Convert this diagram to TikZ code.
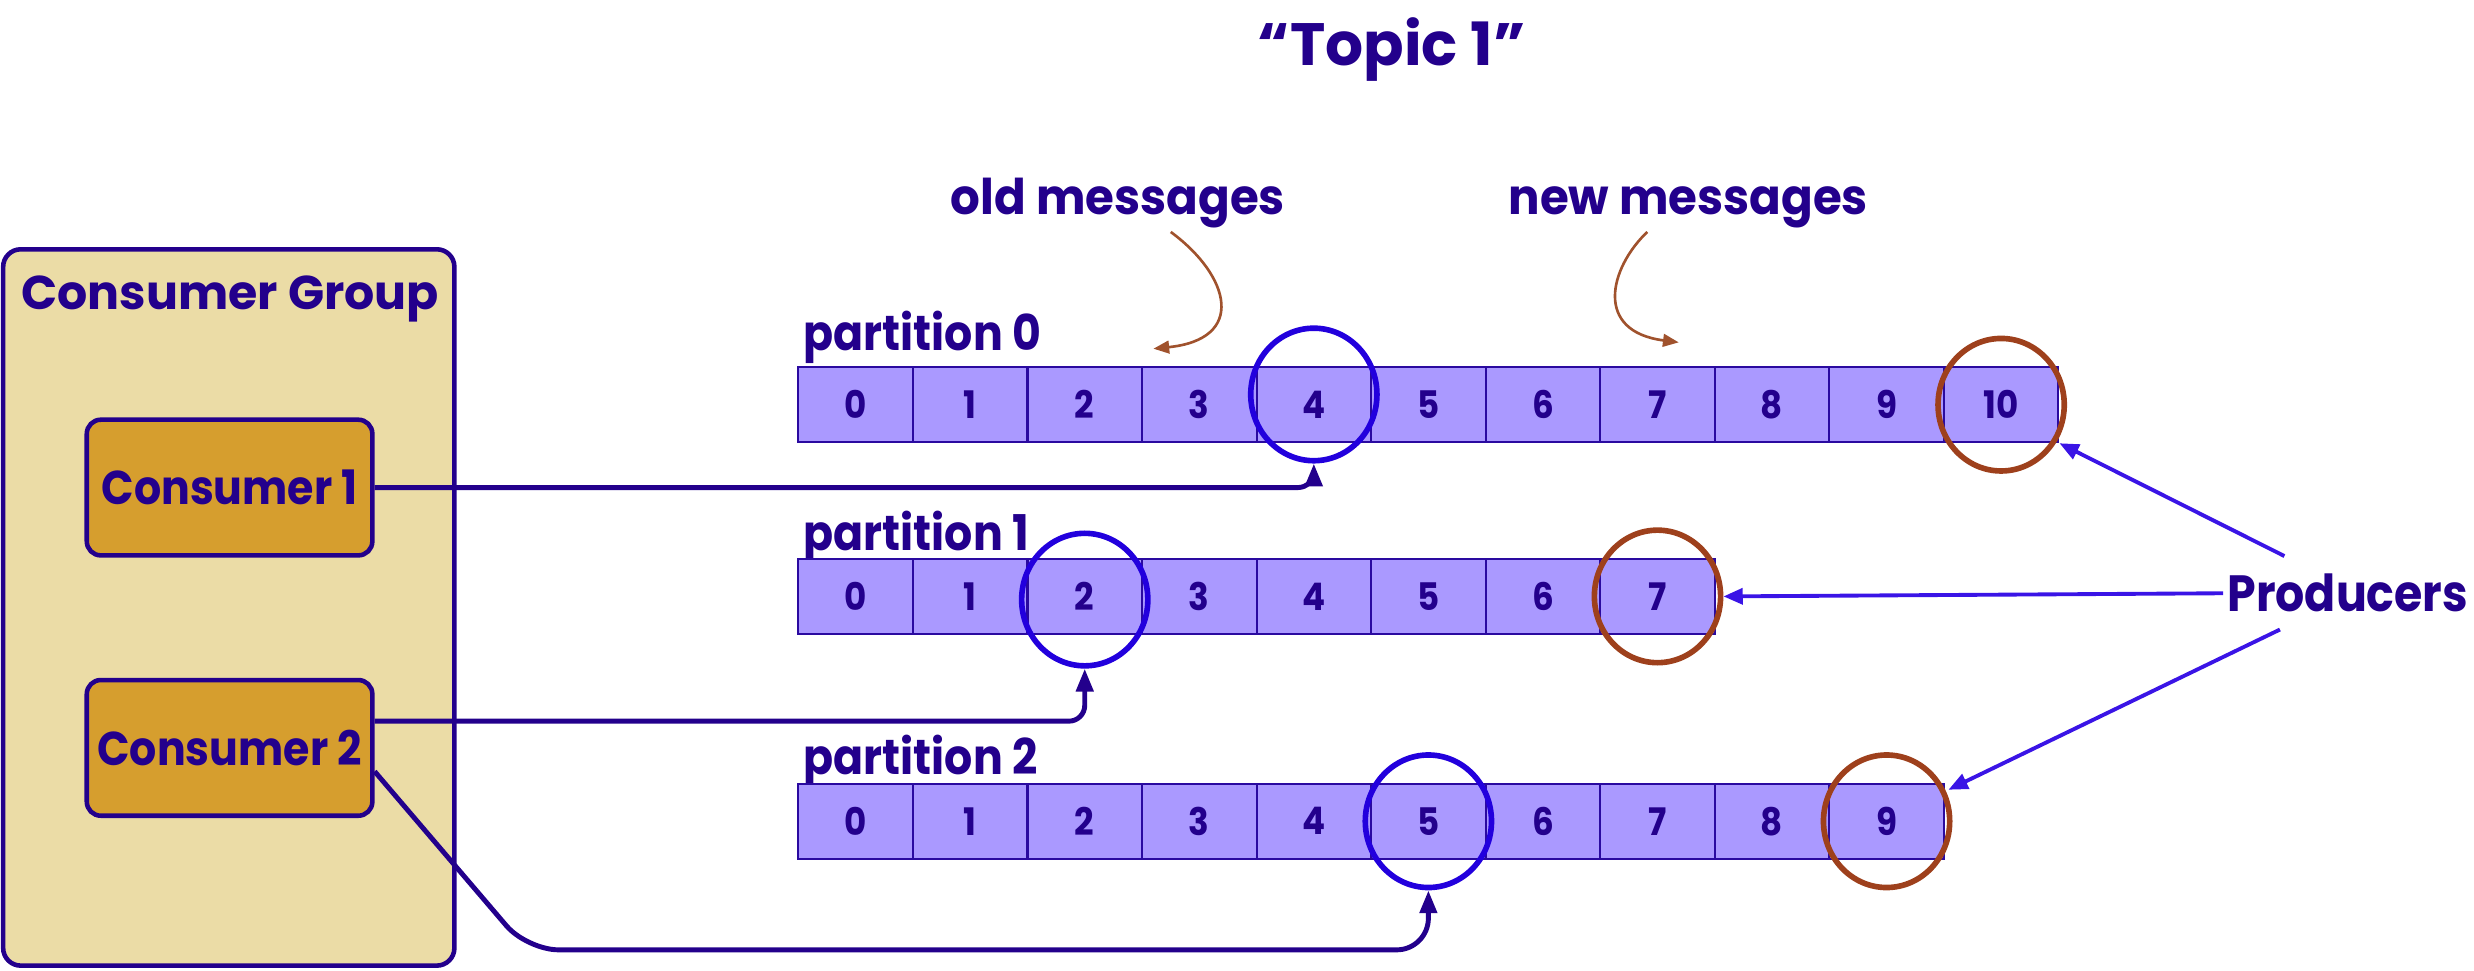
\documentclass[tikz,border=0pt]{standalone}
\usepackage{fontspec}
\setmainfont{Poppins}
\newfontfamily\narrowfont{Poppins}[FakeStretch=0.9]
\newfontfamily\notefont{Poppins}[FakeStretch=0.95]
\usetikzlibrary{arrows.meta,shapes.geometric,calc}
\definecolor{ink}{HTML}{23008C}
\definecolor{cellfill}{HTML}{AA99FF}
\definecolor{cellline}{HTML}{2A0AA0}
\definecolor{bluering}{HTML}{2200DD}
\definecolor{brownring}{HTML}{9E401C}
\definecolor{prodblue}{HTML}{3A14E6}
\definecolor{sienna}{HTML}{A0522D}
\definecolor{groupfill}{HTML}{EBDCA6}
\definecolor{consfill}{HTML}{D69E2E}
\newdimen\pxu \pxu=0.015778cm
\begin{document}
\begin{tikzpicture}[x=0.015778cm,y=-0.015778cm,
  cell/.style={draw=cellline, line width=0.6pt, fill=cellfill, minimum width=72.6*\pxu, minimum height=47.5*\pxu, inner sep=0pt, text=ink, font=\narrowfont\bfseries\fontsize{10.8}{12}\selectfont},
  ring/.style={ellipse, line width=1.6pt, minimum width=80*\pxu, minimum height=84*\pxu, inner sep=0pt},
  bring/.style={ring, draw=bluering},
  rring/.style={ring, draw=brownring},
  plabel/.style={anchor=base west, inner sep=0pt, text=ink, font=\narrowfont\bfseries\fontsize{14}{16}\selectfont},
  note/.style={anchor=base, inner sep=0pt, text=ink, font=\notefont\bfseries\fontsize{14}{16}\selectfont},
  consbox/.style={draw=ink, line width=1.3pt, fill=consfill, rounded corners=4pt, minimum width=181*\pxu, minimum height=86*\pxu, inner sep=0pt, text=ink, font=\narrowfont\bfseries\fontsize{13.5}{16}\selectfont},
  groupbox/.style={draw=ink, line width=1.3pt, fill=groupfill, rounded corners=5pt, minimum width=286*\pxu, minimum height=454*\pxu, inner sep=0pt},
  carrow/.style={draw=ink, line width=1.4pt, rounded corners=4.5pt, -{Triangle[length=6.5pt,width=4.8pt]}},
  parrow/.style={draw=prodblue, line width=1.1pt, -{Triangle[length=5.5pt,width=4.5pt]}},
  sarrow/.style={draw=sienna, line width=0.75pt, -{Triangle[length=4.5pt,width=3.6pt]}}
]
\useasboundingbox (0,0) rectangle (1568,615.4);

% title
\node[anchor=base, inner sep=0pt, text=ink, font=\bfseries\fontsize{17}{20}\selectfont] (title) at (882,41.8) {“Topic 1”};

% consumer group
\node[groupbox] (group) at (145,385) {};
\node[anchor=base, inner sep=0pt, text=ink, font=\bfseries\fontsize{13.5}{16}\selectfont] (grouplabel) at (146,196) {Consumer Group};
\node[consbox] (c1) at (145.5,309) {Consumer 1};
\node[consbox] (c2) at (145.5,474) {Consumer 2};

% partitions
\node[plabel] (pl0) at (509,222) {partition 0};
\node[plabel] (pl1) at (509,349) {partition 1};
\node[plabel] (pl2) at (509,491) {partition 2};
\foreach \i in {0,...,10} \node[cell] (p0c\i) at ({542.3+72.6*\i},256.5) {\i};
\foreach \i in {0,...,7} \node[cell] (p1c\i) at ({542.3+72.6*\i},378) {\i};
\foreach \i in {0,...,9} \node[cell] (p2c\i) at ({542.3+72.6*\i},520.5) {\i};

% rings
\node[bring] (r0) at (832.7,250) {};
\node[bring] (r1) at (687.5,380) {};
\node[bring] (r2) at (905.3,520.5) {};
\node[rring] (b0) at (1268.3,256.5) {};
\node[rring] (b1) at (1050.5,378) {};
\node[rring] (b2) at (1195.7,520.5) {};

% notes
\node[note] (old) at (708.5,136) {old messages};
\node[note] (new) at (1070,136) {new messages};
\coordinate (oa) at (742,147);
\coordinate (ot) at (731,221);
\coordinate (na) at (1044,147);
\coordinate (nt) at (1064,217);
\draw[sarrow] (oa) .. controls (780,175) and (790,215) .. (ot);
\draw[sarrow] (na) .. controls (1020,170) and (1010,210) .. (nt);

% consumer arrows
\coordinate (bend) at (334,602);
\draw[carrow] (c1.east) -| (r0.south);
\draw[carrow] ([yshift=7.6pt]c2.east) -| (r1.south);
\draw[carrow, rounded corners=9pt] ([yshift=-6.7pt]c2.east) -- (bend) -| (r2.south);

% producers
\node[anchor=base, inner sep=0pt, text=ink, font=\narrowfont\bfseries\fontsize{14.5}{17}\selectfont] (prod) at (1488,387.5) {Producers};
\coordinate (pu) at (1447.8,352.4);
\coordinate (pm) at (1409,376);
\coordinate (pd) at (1445,399);
\draw[parrow] (pu) -- (p0c10.south east);
\draw[parrow] (pm) -- (b1.east);
\draw[parrow] (pd) -- ([xshift=1pt,yshift=-2pt]p2c9.north east);
\end{tikzpicture}
\end{document}
